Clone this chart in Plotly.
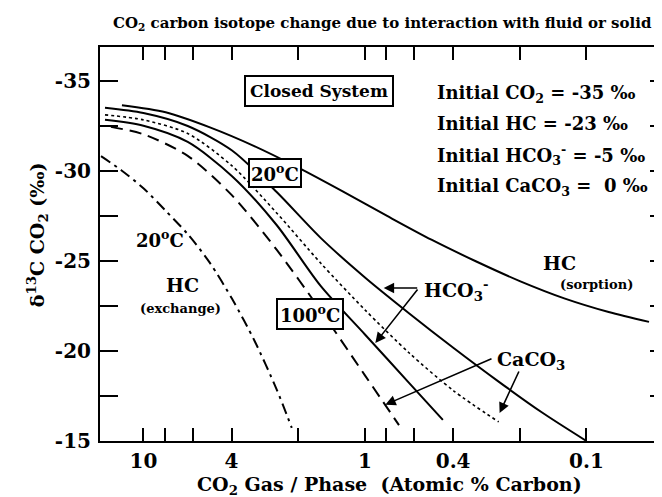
import plotly.graph_objects as go

# ---- data ----
hc_sorp_x = [12.5, 7.94, 5.01, 3.16, 2.0, 1.26, 0.794, 0.501, 0.316, 0.2, 0.126, 0.0794, 0.0522]
hc_sorp_y = [-33.66, -33.27, -32.43, -31.39, -30.19, -28.87, -27.51, -26.19, -24.99, -23.89, -22.93, -22.17, -21.62]

hco3_20_x = [14.91, 10.0, 6.31, 3.98, 2.51, 1.585, 1.0, 0.631, 0.398, 0.251, 0.158, 0.1]
hco3_20_y = [-33.52, -33.23, -32.51, -31.15, -28.85, -26.29, -24.09, -22.09, -20.17, -18.33, -16.57, -15.0]

caco3_20_x = [14.91, 10.0, 6.31, 3.98, 2.51, 1.585, 1.0, 0.631, 0.398, 0.249]
caco3_20_y = [-33.13, -32.85, -32.09, -30.29, -27.69, -24.89, -22.29, -19.89, -17.79, -16.06]

hco3_100_x = [14.91, 10.0, 6.31, 3.98, 2.51, 1.585, 1.0, 0.631, 0.445]
hco3_100_y = [-32.85, -32.52, -31.62, -29.72, -27.02, -23.62, -20.92, -18.22, -16.17]

caco3_100_x = [14.02, 10.0, 6.31, 3.98, 2.51, 1.585, 1.0, 0.702]
caco3_100_y = [-32.46, -32.05, -30.85, -28.65, -25.65, -22.25, -18.65, -15.88]

hc_exch_x = [15.54, 12.59, 10.0, 7.94, 6.31, 5.01, 3.98, 3.16, 2.51, 2.14]
hc_exch_y = [-30.83, -30.05, -29.05, -27.8, -26.5, -24.9, -22.9, -20.6, -17.9, -15.73]

x_tick_vals = [10, 4, 1, 0.4, 0.1]
x_tick_text = ["10", "4", "1", "0.4", "0.1"]
x_minor_vals = [8, 6, 2, 0.8, 0.6, 0.2]
y_tick_vals = [-35, -30, -25, -20, -15]
y_tick_text = ["-35", "-30", "-25", "-20", "-15"]
y_minor_vals = [-32.5, -27.5, -22.5, -17.5]

initial_lines = ["Initial CO<sub>2</sub> = -35 ‰", "Initial HC = -23 ‰",
                 "Initial HCO<sub>3</sub><sup>-</sup> = -5 ‰", "Initial CaCO<sub>3</sub> =  0 ‰"]

# ---- layout geometry ----
W, H = 662, 497
L, R, T, B = 92, 662, 39, 433
FONT = "DejaVu Serif"


def px(p):
    return (p - L) / (R - L)


def py(p):
    return (B - p) / (B - T)


fig = go.Figure()

line_kw = dict(color="black", width=2, shape="spline", smoothing=0.8)
fig.add_trace(go.Scatter(x=hc_sorp_x, y=hc_sorp_y, mode="lines", line=dict(**line_kw)))
fig.add_trace(go.Scatter(x=hco3_20_x, y=hco3_20_y, mode="lines", line=dict(**line_kw)))
fig.add_trace(go.Scatter(x=caco3_20_x, y=caco3_20_y, mode="lines",
                         line=dict(color="black", width=1.6, dash="3px,3px", shape="spline", smoothing=0.8)))
fig.add_trace(go.Scatter(x=hco3_100_x, y=hco3_100_y, mode="lines", line=dict(**line_kw)))
fig.add_trace(go.Scatter(x=caco3_100_x, y=caco3_100_y, mode="lines",
                         line=dict(color="black", width=2, dash="12px,7px", shape="spline", smoothing=0.8)))
fig.add_trace(go.Scatter(x=hc_exch_x, y=hc_exch_y, mode="lines",
                         line=dict(color="black", width=2, dash="11px,5px,3px,5px", shape="spline", smoothing=0.8)))

tickfont = dict(family=FONT, size=20, color="black", weight="bold")
fig.update_xaxes(type="log", range=[1.196, -1.368], tickvals=x_tick_vals, ticktext=x_tick_text,
                 ticks="inside", ticklen=13, tickwidth=2, tickcolor="black",
                 showline=True, linewidth=2, linecolor="black", mirror="ticks",
                 showgrid=False, zeroline=False, tickfont=tickfont, ticklabelstandoff=1,
                 minor=dict(tickvals=x_minor_vals, ticks="inside", ticklen=13, tickwidth=2,
                            tickcolor="black", showgrid=False))
fig.update_yaxes(range=[-15, -36.9], tickvals=y_tick_vals, ticktext=y_tick_text,
                 ticks="inside", ticklen=18, tickwidth=2, tickcolor="black",
                 showline=True, linewidth=2, linecolor="black", mirror="ticks",
                 showgrid=False, zeroline=False, tickfont=tickfont, ticklabelstandoff=3,
                 minor=dict(tickvals=y_minor_vals, ticks="inside", ticklen=18, tickwidth=2,
                            tickcolor="black", showgrid=False))

ann = []


def text(x, y, s, size, xanchor="center", **kw):
    ann.append(dict(x=px(x), y=py(y), xref="paper", yref="paper", text=s, showarrow=False,
                    xanchor=xanchor, yanchor="middle",
                    font=dict(family=FONT, size=size, color="black", weight="bold"), **kw))


def arrow(x_tip, y_tip, x_tail, y_tail):
    ann.append(dict(x=px(x_tip), y=py(y_tip), xref="paper", yref="paper", text="",
                    showarrow=True, ax=x_tail - x_tip, ay=y_tail - y_tip,
                    arrowhead=2, arrowsize=1.3, arrowwidth=1.6, arrowcolor="black",
                    standoff=0, startstandoff=0))


box = dict(bordercolor="black", borderwidth=2, bgcolor="white")
text(311.7, 83.3, "Closed System", 17, borderpad=4, **box)
text(267.5, 165, "20<sup>o</sup>C", 18, borderpad=1, **box)
text(302.5, 305.5, "100<sup>o</sup>C", 18, borderpad=2, **box)
text(152, 231, "20<sup>o</sup>C", 18)
text(174.5, 277, "HC", 19)
text(173, 300, "(exchange)", 13)
text(553.5, 255, "HC", 19)
text(590, 276, "(sorption)", 13)
text(415, 282, "HCO<sub>3</sub><sup>-</sup>", 19, xanchor="left")
text(488, 352, "CaCO<sub>3</sub>", 19, xanchor="left")
for i, s in enumerate(initial_lines):
    text(428, [86, 116, 147, 179][i], s, 18, xanchor="left")

# title & axis titles
text(375, 15, "CO<sub>2</sub> carbon isotope change due to interaction with fluid or solid", 15)
text(383, 477, "CO<sub>2</sub> Gas / Phase  (Atomic % Carbon)", 19)
ann.append(dict(x=px(29), y=py(227), xref="paper", yref="paper",
                text="δ<sup>13</sup>C CO<sub>2</sub> (‰)", showarrow=False, textangle=-90,
                xanchor="center", yanchor="middle",
                font=dict(family=FONT, size=19, color="black", weight="bold")))

# arrows
arrow(376.7, 280, 411.7, 280)
arrow(368.3, 335, 411.7, 280)
arrow(378.3, 396.7, 486, 350)
arrow(493, 405, 513, 362)

fig.update_layout(width=W, height=H, margin=dict(l=L, r=W - R, t=T, b=H - B),
                  paper_bgcolor="white", plot_bgcolor="white", showlegend=False,
                  annotations=ann)

fig.write_html("out.html")
